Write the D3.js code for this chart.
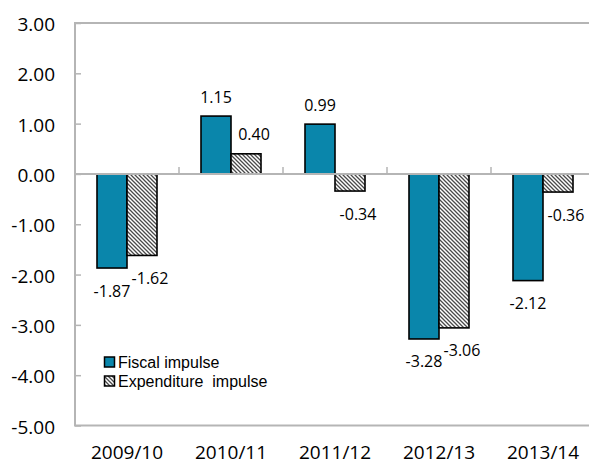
<!DOCTYPE html>
<html>
<head>
<meta charset="utf-8">
<script src="https://cdn.jsdelivr.net/npm/d3@7"></script>
<style>
  html, body { margin: 0; padding: 0; background: #fff; }
  svg { display: block; font-family: "Open Sans", sans-serif; }
</style>
</head>
<body>
<svg id="chart" width="589" height="464"></svg>
<script>
// Fiscal and expenditure impulse by fiscal year (% of GDP)
const categories = ["2009/10", "2010/11", "2011/12", "2012/13", "2013/14"];
const fiscalImpulse = [-1.87, 1.15, 0.99, -3.28, -2.12];
const expenditureImpulse = [-1.62, 0.40, -0.34, -3.06, -0.36];
const seriesNames = ["Fiscal impulse", "Expenditure  impulse"];
const yTicks = [3, 2, 1, 0, -1, -2, -3, -4, -5];

const svg = d3.select("#chart");
const plotLeft = 75, plotRight = 595, plotTop = 23, plotBottom = 425.5;

const x = d3.scaleBand().domain(categories).range([plotLeft, plotRight]).padding(0);
const y = d3.scaleLinear().domain([-5, 3]).range([plotBottom, plotTop]);
const barW = 30;

// two-decimal numbers with a plain hyphen as the minus sign
const locale = d3.formatLocale({ decimal: ".", thousands: ",", grouping: [3], currency: ["", ""], minus: "-" });
const fmt = locale.format(".2f");

// hatch pattern for the expenditure series
const defs = svg.append("defs");
const pat = defs.append("pattern")
  .attr("id", "hatch").attr("patternUnits", "userSpaceOnUse")
  .attr("width", 4).attr("height", 4);
pat.append("rect").attr("width", 4).attr("height", 4).attr("fill", "#fff");
pat.append("path").attr("d", "M0,0 L4,4 M-1,3 L1,5 M3,-1 L5,1")
  .attr("stroke", "#4a4a4a").attr("stroke-width", 1.3);

const axisColor = "#b5b5b5";

// plot frame
svg.append("rect")
  .attr("x", plotLeft).attr("y", plotTop)
  .attr("width", plotRight - plotLeft).attr("height", plotBottom - plotTop)
  .attr("fill", "none").attr("stroke", axisColor).attr("stroke-width", 2);

// y axis ticks (inside) and labels
const yAxis = d3.axisLeft(y).tickValues(yTicks).tickSize(-6).tickPadding(20)
  .tickFormat(fmt);
const gy = svg.append("g").attr("transform", `translate(${plotLeft},0)`).call(yAxis);
gy.select(".domain").remove();
gy.selectAll(".tick line").attr("stroke", axisColor).attr("stroke-width", 1.5);
gy.selectAll(".tick text")
  .attr("font-size", 19).attr("fill", "#000")
  .attr("font-family", "'Open Sans', sans-serif")
  .attr("dy", "0.4em");

// category labels under the frame
svg.append("g").selectAll("text").data(categories).join("text")
  .attr("x", d => x(d) + x.bandwidth() / 2)
  .attr("y", 459)
  .attr("text-anchor", "middle")
  .attr("font-size", 19).attr("fill", "#000")
  .text(d => d);

// bars
const rows = categories.map((c, i) => ({ c, f: fiscalImpulse[i], e: expenditureImpulse[i] }));
const g = svg.append("g");
rows.forEach(r => {
  const cx = x(r.c) + x.bandwidth() / 2;
  g.append("rect")
    .attr("x", cx - barW).attr("width", barW)
    .attr("y", y(Math.max(0, r.f))).attr("height", Math.abs(y(r.f) - y(0)))
    .attr("fill", "#0a86ab").attr("stroke", "#000").attr("stroke-width", 1.6);
  g.append("rect")
    .attr("x", cx).attr("width", barW)
    .attr("y", y(Math.max(0, r.e))).attr("height", Math.abs(y(r.e) - y(0)))
    .attr("fill", "url(#hatch)").attr("stroke", "#000").attr("stroke-width", 1.6);
});

// zero line with category separators
svg.append("line")
  .attr("x1", plotLeft).attr("x2", plotRight).attr("y1", y(0)).attr("y2", y(0))
  .attr("stroke", axisColor).attr("stroke-width", 2);
const sepX = categories.slice(1).map(c => x(c));
svg.append("g").selectAll("line").data(sepX).join("line")
  .attr("x1", d => d).attr("x2", d => d)
  .attr("y1", y(0)).attr("y2", y(0) - 7)
  .attr("stroke", axisColor).attr("stroke-width", 1.5);

// value labels
function labelY(v) { return v >= 0 ? y(v) - 13.5 : y(v) + 28.5; }
const lg = svg.append("g").attr("font-size", 16).attr("fill", "#000").attr("text-anchor", "middle");
rows.forEach(r => {
  const cx = x(r.c) + x.bandwidth() / 2;
  lg.append("text").attr("x", cx - barW / 2).attr("y", labelY(r.f)).text(fmt(r.f));
  lg.append("text").attr("x", cx + barW / 2 + 8).attr("y", labelY(r.e)).text(fmt(r.e));
});

// legend
const leg = svg.append("g");
const fills = ["#0a86ab", "url(#hatch)"];
const legTop = 357, legStep = 19;
seriesNames.forEach((n, i) => {
  const yy = legTop + i * legStep;
  leg.append("rect").attr("x", 104.5).attr("y", yy).attr("width", 10).attr("height", 10)
    .attr("fill", fills[i]).attr("stroke", "#000").attr("stroke-width", 1.5);
  leg.append("text").attr("x", 118).attr("y", yy + 11)
    .attr("font-family", "'Liberation Sans', Arial, sans-serif")
    .attr("font-size", 16).attr("fill", "#000")
    .style("white-space", "pre").text(n);
});
</script>
</body>
</html>
